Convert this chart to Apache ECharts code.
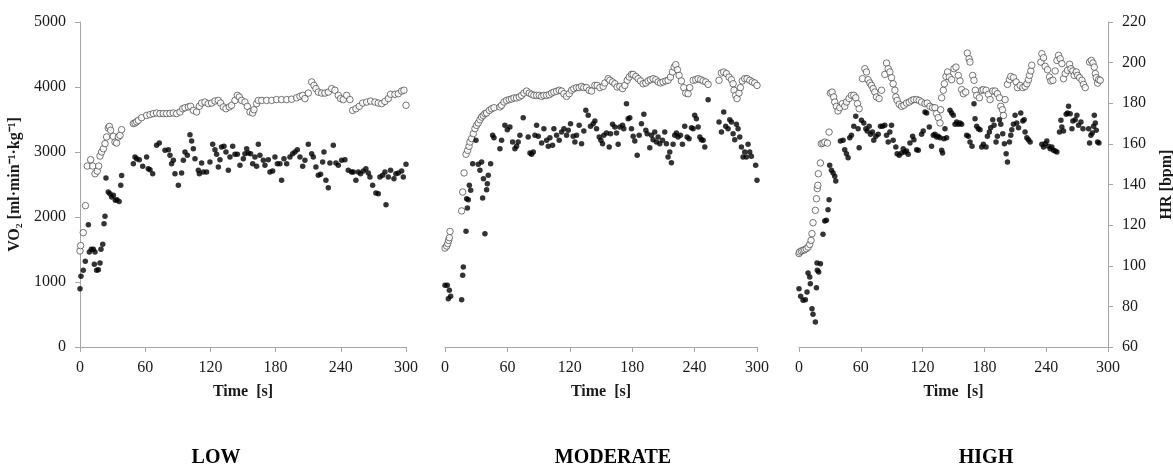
<!DOCTYPE html>
<html>
<head>
<meta charset="utf-8">
<title>VO2 / HR</title>
<script src="https://cdn.jsdelivr.net/npm/echarts@6/dist/echarts.min.js"></script>
<style>
    html, body { margin: 0; padding: 0; background: #fff; }
    #chart { width: 1173px; height: 466px; }
</style>
</head>
<body>
<div id="chart"></div>
<script>
// 面板名称
var panelNames = ['LOW', 'MODERATE', 'HIGH'];

// 刻度
var timeTicks = [0, 60, 120, 180, 240, 300];
var vo2Ticks = [0, 1000, 2000, 3000, 4000, 5000];
var hrTicks = [60, 80, 100, 120, 140, 160, 180, 200, 220];

// LOW  [时间 s, VO2]
var lowVO2 = [
    [0, 897], [0.9, 1087], [3, 1179], [4.9, 1318], [7.7, 1882], [8.6, 1462], [10.4, 1503], [12.3, 1503],
    [13.2, 1272], [13.8, 1462], [15.3, 1179], [16.9, 1190], [18.4, 1292], [19.3, 1503], [20.9, 1580],
    [22.1, 1897], [23, 2010], [23.9, 2600], [26, 2385], [27.6, 2359], [29.1, 2308], [30.7, 2333],
    [32.5, 2256], [34, 2267], [36, 2240], [37.5, 2490], [38.3, 2640],
    [49.1, 2820], [50.6, 2923], [52.1, 2897], [54.6, 2882], [57.7, 2779], [61.3, 2923], [62.8, 2744],
    [64.4, 2728], [66.9, 2667], [70.5, 3103], [73, 3138], [78.2, 3026], [81.3, 3036], [82.8, 2949],
    [84.3, 2820], [85.9, 2872], [87.4, 2667], [90.5, 2487], [93.5, 2677], [95.1, 2872], [96.6, 3000],
    [98.8, 2949], [101.2, 3267], [102.7, 3169], [104.3, 3051], [105.8, 2897], [108.9, 2718], [109.8, 2667],
    [111.9, 2831], [113.5, 2692], [116.5, 2692], [119.6, 2846], [122.1, 3118], [124.2, 3036], [125.7, 2964],
    [127.3, 2769], [128.8, 2882], [130.3, 3077], [132.5, 3087], [134.3, 3000], [136.5, 2718], [138, 2923],
    [140.5, 3087], [142.6, 2964], [144.8, 2964], [147.2, 2795], [150.3, 2897], [151.8, 2974], [153.4, 3051],
    [154.9, 2985], [157, 2974], [158.9, 2820], [161, 2923], [162.5, 2779], [164.1, 3118], [165.6, 2949],
    [168.7, 2872], [170.2, 2795], [173.3, 2882], [174.8, 2692], [177.3, 2708], [179.4, 2923], [181.6, 2820],
    [184, 2820], [185.5, 2564], [187.7, 2897], [190.2, 2820], [193.2, 2923], [195.7, 2974], [197.8, 3000],
    [200, 3036], [202.4, 2923], [204.9, 2779], [207, 2872], [210.1, 3118], [213.2, 2974], [214.7, 2923],
    [217.1, 2769], [219.3, 2641], [221.4, 2656], [223.3, 2846], [224.5, 3000], [226.3, 2564], [228.5, 2451],
    [230, 2831], [233.1, 3103], [235.5, 2831], [237.7, 2795], [240.8, 2872], [243.8, 2882], [246.9, 2718],
    [249.9, 2692], [251.5, 2692], [253.9, 2564], [256.1, 2692], [258.2, 2667], [260.7, 2708], [263.1, 2744],
    [265.3, 2677], [266.8, 2615], [269.3, 2487], [272.3, 2369], [274.5, 2359], [276, 2615], [278.5, 2641],
    [280.6, 2692], [281.6, 2190], [283.7, 2615], [285.8, 2718], [288.9, 2590], [290.7, 2667], [292.9, 2677],
    [296, 2708], [297.5, 2615], [300, 2810]
];
// LOW  [时间 s, HR]
var lowHR = [
    [0, 107.3], [0.6, 109.9], [3, 116.3], [5, 129.6], [6.7, 149.1], [9.8, 152.2], [11.7, 149.1], [13.8, 145.3],
    [15.9, 146.6], [17.2, 149.1], [18.4, 154.0], [19.9, 156.0], [21.5, 157.6], [23, 160.1], [24.5, 163.4],
    [26, 167.8], [27, 168.6], [28.2, 166.7], [30.7, 163.7], [32.2, 160.9], [33.7, 160.4], [35.3, 163.4],
    [36.8, 164.2], [38.3, 167.0],
    [49.1, 170.0], [50.6, 170.3], [52.1, 170.9], [53.7, 171.6], [56.7, 172.9], [61.3, 174.0], [64.4, 174.4],
    [67.5, 174.9], [70.5, 175.2], [73.6, 174.9], [76.7, 174.9], [79.7, 174.9], [82.8, 175.0], [85.9, 175.2],
    [88.9, 174.9], [92, 175.7], [94.5, 177.3], [96.6, 177.8], [99.7, 178.2], [101.8, 178.5], [104.3, 176.5],
    [107.3, 175.7], [109.8, 178.5], [111.9, 180.1], [115, 180.6], [118.1, 179.8], [121.1, 180.1], [124.2, 181.1],
    [127.3, 181.4], [129.4, 180.1], [131.9, 178.2], [134.3, 177.3], [137.4, 178.2], [139.5, 179.0], [142.6, 181.4],
    [144.8, 183.9], [146.6, 183.1], [148.7, 181.4], [151.8, 180.6], [154, 178.5], [156.4, 175.7], [158.9, 175.2],
    [160.1, 176.8], [162.5, 179.8], [164.1, 181.4], [167.2, 181.4], [171.7, 181.4], [176.4, 181.4], [180.9, 181.8],
    [185.5, 181.8], [190.2, 181.8], [194.7, 182.0], [199.3, 182.7], [202.4, 183.4], [204.9, 183.9], [207, 182.3],
    [210.1, 185.0], [213.2, 190.5], [215.3, 188.8], [217.1, 187.2], [219.3, 185.5], [222.4, 185.0], [225.4, 185.0],
    [228.5, 185.5], [231.6, 187.2], [234.6, 186.4], [237.7, 183.9], [239.8, 182.3], [242.3, 181.8], [245.4, 183.9],
    [248.4, 181.8], [250.9, 176.5], [253.9, 177.3], [257, 178.5], [260.1, 180.1], [263.8, 180.6], [267.4, 181.1],
    [271.4, 180.6], [274.5, 180.1], [277.6, 179.8], [280.6, 180.9], [283.7, 182.3], [285.8, 184.4], [289.8, 184.4],
    [292.9, 184.7], [296, 186.0], [298.1, 186.4], [300, 179.0]
];

// MODERATE  [时间 s, VO2]
var modVO2 = [
    [0, 949], [2.2, 949], [3.2, 744], [4.2, 872], [5.4, 779], [16, 728], [17, 1103], [17.6, 1231],
    [20.2, 1779], [20.8, 2282], [21.5, 2138], [22.4, 2267], [23.4, 2487], [24.7, 2410], [26.6, 2820],
    [29.8, 3179], [32, 2810], [33.6, 2718], [35.2, 2846], [36.2, 2292], [37, 2590], [38.4, 1744], [40, 2420],
    [40.7, 2513], [41.6, 2641], [43.9, 2820], [45.8, 3256], [47.1, 3221], [52.8, 3051], [54.4, 3179],
    [57.6, 3410], [59.9, 3344], [62.4, 3385], [65, 3154], [67.2, 3051], [68.8, 3087], [70.4, 3154], [72, 3256],
    [75.2, 3528], [80, 3231], [81.7, 2985], [83.3, 2964], [84.9, 3000], [86.5, 3256], [88.1, 3410], [89.7, 3241],
    [92.9, 3138], [95.1, 3359], [97.7, 3179], [99.3, 3087], [100.9, 3221], [103.4, 3103], [104.7, 3359],
    [107.3, 3256], [109.8, 3179], [112.1, 3308], [114.3, 3359], [116.9, 3256], [118.5, 3333], [120.7, 3436],
    [123.3, 3241], [124.9, 3154], [126.5, 3256], [129, 3410], [131.3, 3128], [133.5, 3323], [135.4, 3641],
    [137.7, 3564], [139.9, 3395], [142.5, 3436], [144.1, 3477], [145.7, 3359], [148.3, 3231], [149.9, 3179],
    [151.5, 3128], [152.7, 3256], [155.3, 3292], [157.9, 3077], [159.1, 3282], [161.1, 3426], [163.3, 3385],
    [164.9, 3292], [166.5, 3118], [168.1, 3385], [170.7, 3410], [171.9, 3359], [174.5, 3744], [176.1, 3513],
    [177.7, 3528], [179.3, 3359], [180.9, 3241], [182.5, 3169], [184.8, 2949], [186.7, 3256], [188.9, 3436],
    [191.2, 3579], [193.1, 3333], [194.4, 3282], [196.9, 3067], [198.5, 3256], [200.1, 3190], [201.7, 3308],
    [203.3, 3154], [204.9, 3231], [206.5, 3128], [209.1, 3179], [211.3, 3308], [212.9, 3128], [214.5, 2923],
    [216.1, 3000], [217.7, 2836], [219.3, 3118], [220.9, 3256], [222.5, 3292], [224.1, 3231], [226.4, 3256],
    [228.3, 3118], [230.5, 3395], [232.8, 3231], [234.7, 3205], [237, 3374], [238.6, 3359], [240.1, 3564],
    [241.7, 3513], [243.4, 3385], [245, 3231], [246.5, 3190], [248.2, 3179], [249.8, 3077], [253, 3805],
    [263.5, 3462], [265.8, 3308], [268, 3615], [269.9, 3395], [272.2, 3359], [273.8, 3497], [275.4, 3462],
    [277, 3282], [278.6, 3190], [280.2, 3426], [281.8, 3359], [283.4, 3231], [285, 3077], [286.6, 2923],
    [288.2, 3000], [289.8, 2923], [291.4, 3118], [293, 3000], [294.6, 2933], [298.7, 2795], [300, 2564]
];
// MODERATE  [时间 s, HR]
var modHR = [
    [0, 108.7], [1.6, 109.7], [2.6, 110.9], [3.5, 112.5], [4.2, 113.8], [4.8, 116.9], [16, 127.0], [17, 136.3],
    [18.3, 145.7], [20.2, 154.9], [21.8, 156.8], [23.1, 158.8], [24, 160.9], [25.6, 162.6], [27.2, 165.0],
    [28.8, 167.5], [30.4, 169.1], [32, 170.3], [33.6, 171.9], [35.2, 173.2], [36.8, 174.0], [38.4, 174.9],
    [40, 175.2], [42.6, 176.5], [44.8, 177.3], [47.1, 177.8], [52.8, 178.2], [54.4, 179.0], [56.7, 180.6],
    [59.2, 181.4], [61.8, 181.8], [64, 182.1], [66.3, 182.6], [68.8, 182.6], [71.4, 183.1], [73.6, 183.9],
    [75.9, 185.0], [78.4, 186.0], [81, 185.0], [83.3, 184.4], [85.5, 183.9], [88.1, 183.9], [90.6, 183.9],
    [92.9, 183.4], [95.1, 183.9], [97.7, 183.9], [100.2, 184.2], [102.5, 185.0], [104.7, 185.5], [107.3, 185.9],
    [109.8, 186.4], [112.1, 186.0], [114.3, 184.7], [116.9, 183.4], [119.4, 184.7], [121.7, 186.4], [123.9, 187.2],
    [126.5, 187.7], [129, 187.7], [131.3, 188.3], [133.5, 187.7], [136.1, 187.7], [138.6, 186.4], [140.9, 186.0],
    [144.1, 188.8], [146.3, 188.8], [148.9, 187.7], [152.1, 188.3], [153.7, 190.0], [156.9, 192.1], [158.5, 191.3],
    [161.1, 190.5], [163.3, 189.6], [165.5, 188.0], [168.1, 188.3], [170.7, 187.2], [172.9, 188.8], [175.2, 191.3],
    [177.1, 192.9], [179.3, 194.2], [180.9, 194.2], [183.5, 193.2], [185.7, 192.1], [188, 191.0], [190.5, 189.6],
    [193.1, 190.0], [195.3, 191.0], [197.6, 191.6], [200.1, 192.1], [202.7, 191.6], [204.9, 190.5], [207.2, 190.0],
    [209.7, 190.5], [212.3, 191.0], [214.5, 191.3], [216.8, 192.9], [218.7, 195.4], [220.3, 197.8], [221.9, 199.0],
    [223.5, 196.5], [225.1, 193.7], [227.3, 191.0], [229.6, 187.7], [231.5, 185.0], [233.7, 184.7], [235.3, 187.7],
    [238.6, 191.3], [241.1, 191.6], [243.4, 192.1], [245.9, 191.6], [248.2, 191.0], [250.7, 190.5], [253, 189.3],
    [263.5, 191.3], [265.8, 194.9], [268, 195.4], [270.6, 194.6], [273.1, 192.9], [275.4, 191.6], [277, 189.6],
    [277.9, 186.4], [279.5, 183.9], [280.8, 182.3], [282.7, 185.0], [284, 187.7], [285.9, 191.0], [288.2, 192.1],
    [290.4, 192.1], [293, 191.3], [295.5, 190.5], [297.8, 190.0], [300, 188.8]
];

// HIGH  [时间 s, VO2]
var highVO2 = [
    [0, 897], [1.6, 779], [3.9, 718], [6.2, 728], [7.8, 846], [8.8, 1138], [10.4, 1077], [11, 974],
    [12.6, 590], [13.6, 503], [15.9, 385], [16.9, 913], [17.5, 1292], [17.8, 1179], [19.1, 1154], [20.8, 1282],
    [23.3, 1733], [25, 1938], [26.6, 1949], [28.2, 2113], [29.2, 2267], [29.8, 2795], [31.5, 2718], [33.1, 2677],
    [34.7, 2626], [35.7, 2554], [40.2, 3169], [42.8, 3179], [44.4, 3036], [46.1, 2974], [47.7, 2913],
    [49.3, 3221], [50.9, 3256], [53.2, 3395], [55.1, 3549], [57.4, 3359], [58.4, 3067], [60.6, 3487],
    [62.9, 3446], [64.9, 3359], [66.2, 3323], [68.1, 3395], [69.4, 3272], [71.3, 3308], [72.6, 3179],
    [74.6, 3241], [76.9, 3272], [79.1, 3395], [81.1, 3395], [83.3, 3410], [85, 3256], [86.6, 3154], [88.2, 3308],
    [89.8, 3410], [91.4, 3179], [94, 3077], [95.3, 2974], [97.3, 2949], [99.6, 2985], [101.2, 3051], [102.8, 3000],
    [104.4, 3015], [106, 2964], [107.7, 3138], [110.3, 3241], [111.6, 3190], [114.2, 3036], [115.8, 3026],
    [119, 3272], [120.6, 3323], [122.3, 3615], [123.9, 3600], [126.5, 3385], [128.7, 3087], [130.4, 3256],
    [132, 3272], [133.6, 3231], [135.2, 3241], [136.9, 3221], [138.5, 3026], [139.4, 2985], [140.7, 3205],
    [141.7, 3359], [143.3, 3221], [146.6, 3641], [148.2, 3600], [149.8, 3564], [151.5, 3426], [153.1, 3462],
    [154.7, 3426], [156.3, 3446], [157.9, 3426], [162.8, 3256], [164.4, 3241], [166, 3154], [168, 3087],
    [169.9, 3744], [170.9, 3513], [172.5, 3395], [174.1, 3359], [175.8, 3344], [177.4, 3077], [179, 3118],
    [181.6, 3077], [182.9, 3241], [184.8, 3308], [186.1, 3374], [188.1, 3497], [189.4, 3410], [191.3, 3154],
    [192.6, 3241], [194.6, 3497], [195.9, 3426], [197.8, 3282], [199.4, 3128], [201.1, 2974], [202.4, 2846],
    [204.3, 3154], [205.6, 3256], [206.6, 3344], [208.2, 3426], [209.8, 3564], [211.4, 3446], [213.1, 3374],
    [215.3, 3600], [217.3, 3477], [218.6, 3497], [219.5, 3308], [221.2, 3221], [222.8, 3190], [224.4, 3154],
    [235.8, 3118], [237.4, 3077], [239, 3128], [240.6, 3169], [242.3, 3087], [243.9, 3051], [245.5, 3077],
    [247.1, 3026], [248.7, 3015], [250.4, 3000], [252.9, 3308], [254.3, 3487], [255.2, 3385], [256.8, 3323],
    [259.4, 3579], [260.7, 3600], [261.7, 3703], [263.3, 3590], [265, 3359], [265.9, 3477], [268.2, 3497],
    [269.8, 3564], [271.4, 3410], [273.7, 3462], [275.7, 3359], [281.2, 3359], [282.1, 3138], [283.4, 3256],
    [284.7, 3292], [286, 3395], [286.7, 3564], [287.7, 3446], [288.6, 3333], [289.9, 3154], [291.2, 3138]
];
// HIGH  [时间 s, HR]
var highHR = [
    [0, 106.0], [0.6, 106.8], [2.3, 107.3], [3.9, 107.6], [5.5, 107.9], [7.1, 108.4], [8.8, 109.2], [10.4, 110.5],
    [11.7, 112.5], [12.6, 115.8], [13.6, 121.2], [15.9, 127.3], [16.9, 133.0], [17.8, 138.0], [18.3, 139.6],
    [18.8, 145.3], [20.8, 150.6], [21.7, 160.1], [23.3, 160.4], [25, 160.9], [27.6, 160.4], [29.2, 165.8],
    [30.5, 185.0], [32.1, 185.5], [33.7, 183.1], [34.7, 180.6], [36.3, 178.5], [37.9, 176.2], [39.6, 177.8],
    [42.2, 179.8], [44.4, 178.5], [46.1, 180.6], [48.6, 182.3], [50.9, 183.9], [53.2, 183.9], [55.1, 182.7],
    [56.8, 179.8], [58.4, 177.3], [61.6, 192.1], [63.9, 197.0], [65.5, 195.4], [67.1, 191.6], [68.8, 190.0],
    [70.4, 188.8], [72, 187.2], [73.6, 185.5], [75.2, 183.1], [77.8, 182.3], [80.1, 186.4], [83.3, 194.2],
    [85, 199.8], [86.6, 197.0], [88.2, 195.4], [89.8, 192.6], [91.4, 189.6], [93.1, 186.4], [94, 183.1],
    [95.3, 181.4], [97.3, 179.5], [99.6, 178.5], [101.8, 179.0], [104.4, 180.1], [107, 180.6], [109.3, 181.4],
    [111.6, 181.8], [114.2, 181.8], [116.7, 181.4], [119, 180.6], [122.3, 179.8], [124.5, 180.1], [127.1, 178.5],
    [129.7, 177.8], [132, 177.8], [133.6, 174.9], [135.2, 172.9], [136.9, 170.3], [137.5, 176.8], [138.5, 182.7],
    [140.1, 186.4], [141.1, 189.6], [142.7, 193.2], [144.3, 195.4], [145.9, 192.9], [148.2, 191.6], [150.5, 197.0],
    [152.4, 197.8], [154.7, 193.7], [156.3, 191.0], [157.9, 186.7], [159.6, 184.7], [161.8, 185.5], [163.4, 204.7],
    [165.1, 201.9], [166, 200.3], [168.6, 193.7], [169.9, 191.3], [171.2, 186.4], [172.5, 183.9], [175.1, 182.7],
    [177.4, 186.4], [179, 186.7], [181.6, 186.4], [183.9, 184.4], [185.5, 181.8], [188.1, 186.0], [190.4, 186.0],
    [192.6, 184.7], [194.6, 182.7], [195.9, 178.5], [197.5, 176.8], [198.5, 174.0], [200.1, 181.8], [202.4, 189.3],
    [204.3, 191.6], [205.6, 193.2], [208.2, 192.6], [210.8, 190.5], [212.1, 187.7], [214.7, 188.8], [217.3, 187.7],
    [219.5, 188.3], [221.2, 189.6], [222.8, 191.6], [223.8, 193.7], [225.1, 195.9], [226, 198.7], [234.8, 200.3],
    [235.8, 204.4], [237.4, 202.4], [239, 198.2], [241.3, 196.5], [243.2, 192.9], [244.5, 191.0], [246.5, 191.3],
    [248.7, 195.9], [250.4, 201.1], [252, 203.6], [253.6, 201.9], [255.2, 199.5], [256.8, 192.1], [258.5, 194.6],
    [260.7, 196.2], [262.7, 199.2], [264, 197.0], [265.9, 195.9], [267.2, 193.7], [269.2, 195.4], [270.5, 193.7],
    [272.4, 192.6], [274.7, 191.3], [276.3, 189.3], [277.9, 187.7], [282.1, 200.3], [283.8, 201.1], [285.4, 199.8],
    [286.7, 197.8], [287.7, 194.6], [288.6, 192.6], [289.9, 189.9], [290.9, 191.6], [292.5, 191.3]
];

(function () {
    var font = '"Liberation Serif", "Times New Roman", serif';
    var axisGray = '#a6a6a6';
    var textColor = '#1a1a1a';

    // 三个面板的位置 (outerBoundsMode none: 不让 v6 自动缩小网格)
    var grids = [
        {left: 80, top: 22, width: 326, height: 325, outerBoundsMode: 'none'},
        {left: 445, top: 22, width: 312, height: 325, outerBoundsMode: 'none'},
        {left: 799, top: 22, width: 309, height: 325, outerBoundsMode: 'none'}
    ];

    var vo2Data = [lowVO2, modVO2, highVO2];
    var hrData = [lowHR, modHR, highHR];

    // 不要千分位逗号
    var plainLabel = function (v) {
        return String(v);
    };

    var xAxes = [], yAxes = [], series = [], titles = [];

    for (var i = 0; i < 3; i++) {
        xAxes.push({
            gridIndex: i,
            type: 'value',
            min: timeTicks[0],
            max: timeTicks[timeTicks.length - 1],
            interval: timeTicks[1] - timeTicks[0],
            name: 'Time  [s]',
            nameLocation: 'middle',
            nameGap: 37,
            nameTextStyle: {fontFamily: font, fontSize: 16, fontWeight: 'bold', color: textColor},
            axisLine: {show: true, lineStyle: {color: axisGray, width: 1}},
            axisTick: {show: true, inside: false, length: 5, lineStyle: {color: axisGray}},
            axisLabel: {fontFamily: font, fontSize: 16, color: textColor, margin: 13, formatter: plainLabel},
            splitLine: {show: false}
        });

        // 左轴 VO2
        yAxes.push({
            gridIndex: i,
            type: 'value',
            position: 'left',
            show: i === 0,
            min: vo2Ticks[0],
            max: vo2Ticks[vo2Ticks.length - 1],
            interval: vo2Ticks[1] - vo2Ticks[0],
            name: 'VO\u2082 [ml\u00b7min\u207b\u00b9\u00b7kg\u207b\u00b9]',
            nameLocation: 'middle',
            nameGap: 57,
            nameTextStyle: {fontFamily: font, fontSize: 16, fontWeight: 'bold', color: textColor},
            axisLine: {show: true, lineStyle: {color: axisGray, width: 1}},
            axisTick: {show: true, length: 5, lineStyle: {color: axisGray}},
            axisLabel: {fontFamily: font, fontSize: 16, color: textColor, margin: 14, formatter: plainLabel},
            splitLine: {show: false}
        });

        // 右轴 HR
        yAxes.push({
            gridIndex: i,
            type: 'value',
            position: 'right',
            show: i === 2,
            min: hrTicks[0],
            max: hrTicks[hrTicks.length - 1],
            interval: hrTicks[1] - hrTicks[0],
            name: 'HR [bpm]',
            nameLocation: 'middle',
            nameRotate: 90,
            nameGap: 51,
            nameTextStyle: {fontFamily: font, fontSize: 16, fontWeight: 'bold', color: textColor},
            axisLine: {show: true, lineStyle: {color: axisGray, width: 1}},
            axisTick: {show: true, length: 5, lineStyle: {color: axisGray}},
            axisLabel: {fontFamily: font, fontSize: 16, color: textColor, margin: 14, formatter: plainLabel},
            splitLine: {show: false}
        });

        series.push({
            name: 'HR',
            type: 'scatter',
            xAxisIndex: i,
            yAxisIndex: i * 2 + 1,
            data: hrData[i],
            symbol: 'circle',
            symbolSize: 6.5,
            itemStyle: {color: '#ffffff', borderColor: '#404040', borderWidth: 0.9}
        });
        series.push({
            name: 'VO2',
            type: 'scatter',
            xAxisIndex: i,
            yAxisIndex: i * 2,
            data: vo2Data[i],
            symbol: 'circle',
            symbolSize: 5.5,
            itemStyle: {color: '#000000'}
        });

        titles.push({
            text: panelNames[i],
            left: [211, 608, 981][i],
            top: 443,
            textAlign: 'center',
            textStyle: {fontFamily: font, fontSize: 20, fontWeight: 'bold', color: '#000'}
        });
    }

    var option = {
        animation: false,
        backgroundColor: '#ffffff',
        title: titles,
        grid: grids,
        xAxis: xAxes,
        yAxis: yAxes,
        series: series
    };

    var myChart = echarts.init(document.getElementById('chart'));
    myChart.setOption(option);
})();
</script>
</body>
</html>
